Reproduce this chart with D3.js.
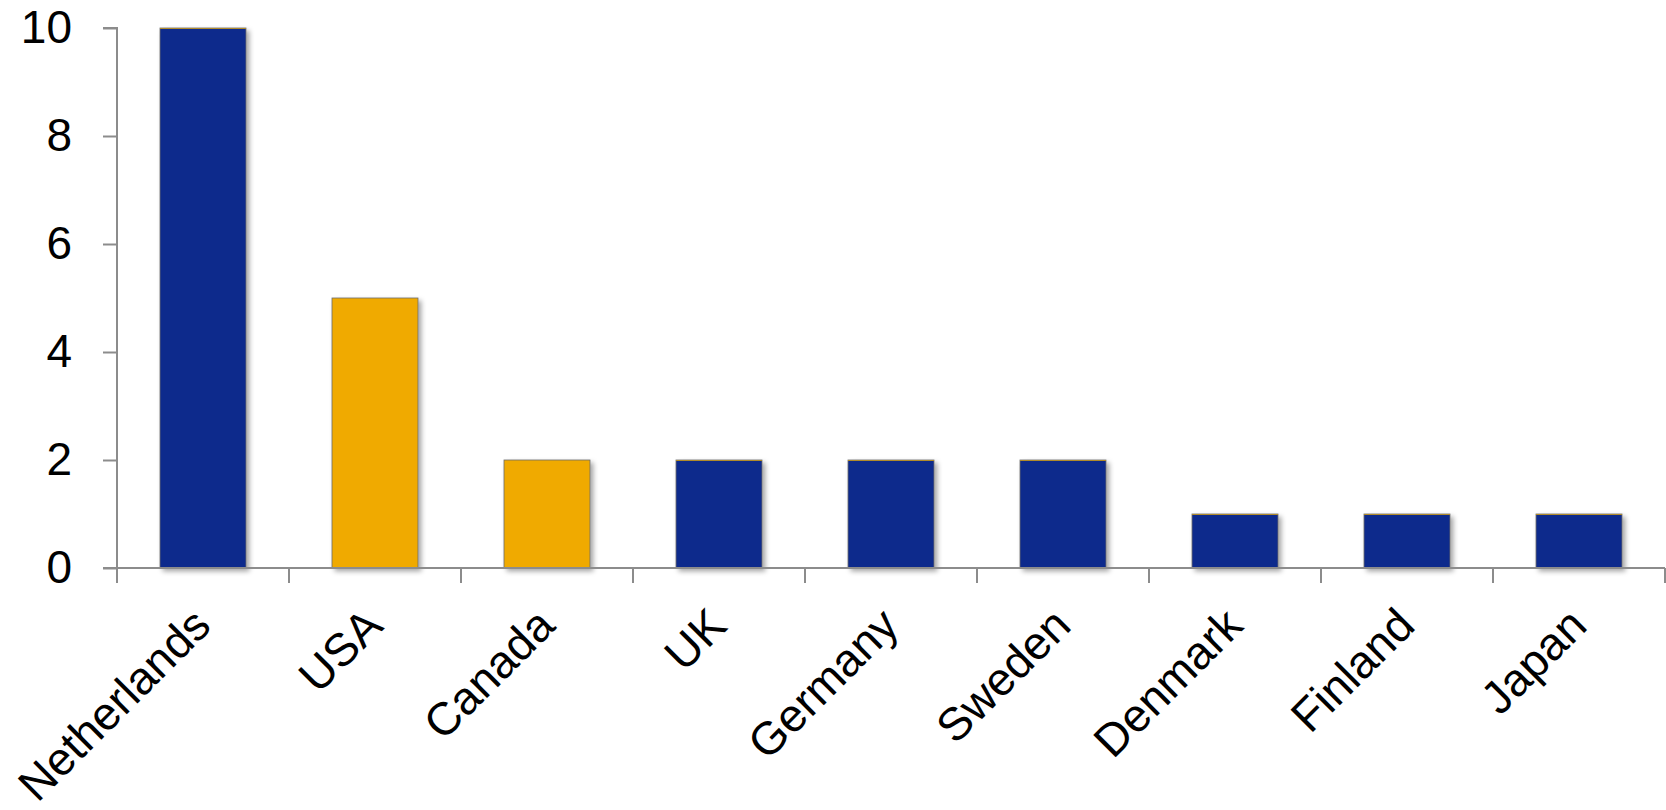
<!DOCTYPE html>
<html>
<head>
<meta charset="utf-8">
<script src="https://cdn.jsdelivr.net/npm/d3@7"></script>
<style>
  html, body { margin: 0; padding: 0; background: #fff; }
  svg { display: block; }
  text { font-family: "Liberation Sans", Arial, sans-serif; fill: #000; }
</style>
</head>
<body>
<svg id="chart" width="1666" height="810"></svg>
<script>
const categories = ["Netherlands", "USA", "Canada", "UK", "Germany", "Sweden", "Denmark", "Finland", "Japan"];
const values = [10, 5, 2, 2, 2, 2, 1, 1, 1];
const highlighted = ["USA", "Canada"];
const yTicks = [0, 2, 4, 6, 8, 10];

const plotLeft = 117, plotRight = 1665, plotTop = 28, plotBottom = 568;

const svg = d3.select("#chart");

const defs = svg.append("defs");
const f = defs.append("filter").attr("id", "shadow")
  .attr("x", "-20%").attr("y", "-20%").attr("width", "140%").attr("height", "140%");
f.append("feDropShadow").attr("dx", 3).attr("dy", 3).attr("stdDeviation", 2.5)
  .attr("flood-color", "#000").attr("flood-opacity", 0.35);

const x = d3.scaleBand().domain(categories).range([plotLeft, plotRight]).paddingInner(0.5).paddingOuter(0.25);
const y = d3.scaleLinear().domain([0, 10]).range([plotBottom, plotTop]);

// bars
const bars = svg.append("g");
bars.selectAll("rect").data(categories).join("rect")
  .attr("x", d => x(d))
  .attr("y", (d, i) => y(values[i]))
  .attr("width", x.bandwidth())
  .attr("height", (d, i) => y(0) - y(values[i]))
  .attr("fill", d => highlighted.includes(d) ? "#F0AA00" : "#0F2B8C")
  .attr("stroke", "#6b6b6b").attr("stroke-width", 0.8)
  .attr("filter", "url(#shadow)");
// thin golden top edge on blue bars
bars.selectAll("line").data(categories.filter(d => !highlighted.includes(d))).join("line")
  .attr("x1", d => x(d)).attr("x2", d => x(d) + x.bandwidth())
  .attr("y1", d => y(values[categories.indexOf(d)]) + 0.5)
  .attr("y2", d => y(values[categories.indexOf(d)]) + 0.5)
  .attr("stroke", "#B08A2A").attr("stroke-width", 1);

const axisColor = "#8c8c8c";

// y axis
const yAxis = svg.append("g").attr("transform", `translate(${plotLeft},0)`)
  .call(d3.axisLeft(y).tickValues(yTicks).tickSize(14).tickPadding(31).tickFormat(d3.format("d")));
yAxis.select(".domain").attr("stroke", axisColor).attr("stroke-width", 2)
  .attr("d", `M-14,${plotTop}H0V${plotBottom}`);
yAxis.selectAll(".tick line").attr("stroke", axisColor).attr("stroke-width", 2);
yAxis.selectAll(".tick text").attr("font-size", 46).attr("font-family", "Liberation Sans, Arial, sans-serif").attr("fill", "#000");

// x axis: line + boundary ticks
const xg = svg.append("g");
xg.append("line").attr("x1", plotLeft - 14).attr("x2", plotRight).attr("y1", plotBottom).attr("y2", plotBottom)
  .attr("stroke", axisColor).attr("stroke-width", 2);
const step = x.step();
const boundaries = d3.range(categories.length + 1).map(i => plotLeft + i * step);
xg.selectAll("line.b").data(boundaries).join("line").attr("class", "b")
  .attr("x1", d => d).attr("x2", d => d).attr("y1", plotBottom).attr("y2", plotBottom + 15)
  .attr("stroke", axisColor).attr("stroke-width", 2);

// x labels
xg.selectAll("text").data(categories).join("text")
  .attr("text-anchor", "end")
  .attr("font-size", 46)
  .attr("transform", d => `translate(${x(d) + x.bandwidth() / 2 + 10},${plotBottom + 60}) rotate(-45)`)
  .text(d => d);
</script>
</body>
</html>
